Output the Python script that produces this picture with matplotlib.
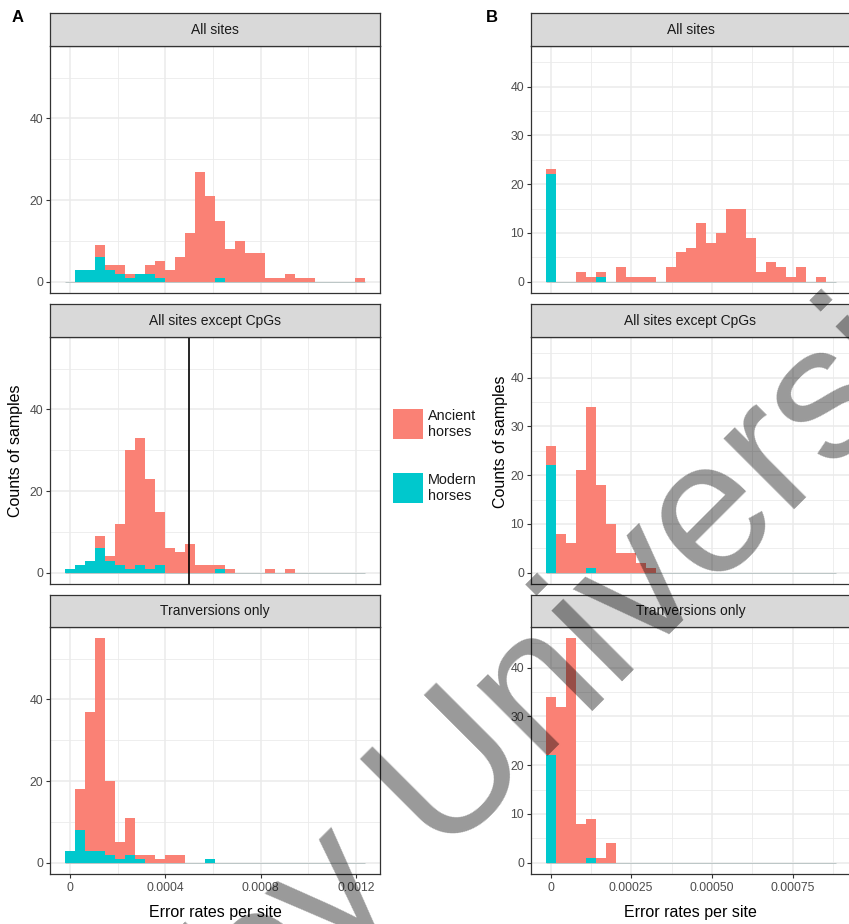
import numpy as np
import matplotlib
matplotlib.use("Agg")
import matplotlib.pyplot as plt
from matplotlib.patches import Rectangle

plt.rcParams['font.family'] = ['Liberation Sans', 'DejaVu Sans']

# ---------------- data (histogram counts per bin) -------------
facets = ["All sites", "All sites except CpGs", "Tranversions only"]
group_labels = ["Ancient\nhorses", "Modern\nhorses"]

# Panel A: 30 bins, bin centres at k * binwidth_a
binwidth_a = 4.196e-5
a_all_modern = [0, 3, 3, 6, 3, 2, 1, 2, 2, 1, 0, 0, 0, 0, 0, 1, 0, 0, 0, 0, 0, 0, 0, 0, 0, 0, 0, 0, 0, 0]
a_all_ancient = [0, 0, 0, 3, 1, 2, 1, 0, 2, 4, 3, 6, 12, 27, 21, 14, 8, 10, 7, 7, 1, 1, 2, 1, 1, 0, 0, 0, 0, 1]
a_cpg_modern = [1, 2, 3, 6, 3, 2, 1, 2, 1, 2, 0, 0, 0, 0, 0, 1, 0, 0, 0, 0, 0, 0, 0, 0, 0, 0, 0, 0, 0, 0]
a_cpg_ancient = [0, 0, 0, 3, 1, 10, 29, 31, 22, 13, 6, 5, 7, 2, 2, 1, 1, 0, 0, 0, 1, 0, 1, 0, 0, 0, 0, 0, 0, 0]
a_tv_modern = [3, 8, 3, 3, 2, 1, 2, 1, 0, 0, 0, 0, 0, 0, 1, 0, 0, 0, 0, 0, 0, 0, 0, 0, 0, 0, 0, 0, 0, 0]
a_tv_ancient = [0, 10, 34, 52, 18, 4, 9, 1, 2, 1, 2, 2, 0, 0, 0, 0, 0, 0, 0, 0, 0, 0, 0, 0, 0, 0, 0, 0, 0, 0]
a_cutoff = 0.0005

# Panel B: 29 bins, bin centres at k * binwidth_b
binwidth_b = 3.099e-5
b_all_modern = [22, 0, 0, 0, 0, 1, 0, 0, 0, 0, 0, 0, 0, 0, 0, 0, 0, 0, 0, 0, 0, 0, 0, 0, 0, 0, 0, 0, 0]
b_all_ancient = [1, 0, 0, 2, 1, 1, 0, 3, 1, 1, 1, 0, 3, 6, 7, 12, 8, 10, 15, 15, 9, 2, 4, 3, 1, 3, 0, 1, 0]
b_cpg_modern = [22, 0, 0, 0, 1, 0, 0, 0, 0, 0, 0, 0, 0, 0, 0, 0, 0, 0, 0, 0, 0, 0, 0, 0, 0, 0, 0, 0, 0]
b_cpg_ancient = [4, 8, 6, 21, 33, 18, 10, 4, 4, 2, 1, 0, 0, 0, 0, 0, 0, 0, 0, 0, 0, 0, 0, 0, 0, 0, 0, 0, 0]
b_tv_modern = [22, 0, 0, 0, 1, 0, 0, 0, 0, 0, 0, 0, 0, 0, 0, 0, 0, 0, 0, 0, 0, 0, 0, 0, 0, 0, 0, 0, 0]
b_tv_ancient = [12, 32, 46, 8, 8, 1, 4, 0, 0, 0, 0, 0, 0, 0, 0, 0, 0, 0, 0, 0, 0, 0, 0, 0, 0, 0, 0, 0, 0]

a_xticks = [0, 0.0004, 0.0008, 0.0012]
a_xticklabels = ["0", "0.0004", "0.0008", "0.0012"]
a_xminor = [0.0002, 0.0006, 0.0010]
a_yticks = [0, 20, 40]
a_yminor = [10, 30, 50]

b_xticks = [0, 0.00025, 0.0005, 0.00075]
b_xticklabels = ["0", "0.00025", "0.00050", "0.00075"]
b_xminor = [0.000125, 0.000375, 0.000625, 0.000875]
b_yticks = [0, 10, 20, 30, 40]
b_yminor = [5, 15, 25, 35, 45]

xlabel = "Error rates per site"
ylabel = "Counts of samples"

# ---------------- style ----------------
COL_ANC = '#FA8175'
COL_MOD = '#00C8CD'
GRID = '#EBEBEB'
BORDER = '#333333'
TICKTXT = '#4D4D4D'

W, H = 849, 924
fig = plt.figure(figsize=(W / 100, H / 100), dpi=100)


def ax_at(x0, y0, x1, y1):
    return fig.add_axes([x0 / W, 1 - y1 / H, (x1 - x0) / W, (y1 - y0) / H])


rows = [(13, 46, 293), (304, 337, 584), (595, 627, 874)]


def draw_column(x0, x1, series, w, xticks, xticklabels, xminor, yticks, yminor, cutoff=None):
    n = len(series[0][0])
    centers = np.arange(n) * w
    lo, hi = -w / 2, (n - 0.5) * w
    span = hi - lo
    xlim = (lo - 0.05 * span, hi + 0.05 * span)
    maxc = max(max(np.array(m) + np.array(a)) for m, a in series)
    ylim = (-0.05 * maxc, 1.05 * maxc)
    axes = []
    for r, ((ys, yp, yb), (modern, ancient), title) in enumerate(zip(rows, series, facets)):
        ax = ax_at(x0, yp, x1, yb)
        axes.append(ax)
        ax.set_xlim(*xlim)
        ax.set_ylim(*ylim)
        ax.set_xticks(xticks)
        ax.set_xticks(xminor, minor=True)
        ax.set_yticks(yticks)
        ax.set_yticks(yminor, minor=True)
        ax.grid(which='major', color=GRID, lw=1.1)
        ax.grid(which='minor', color=GRID, lw=0.6)
        ax.set_axisbelow(True)
        ax.tick_params(which='minor', length=0)
        ax.tick_params(axis='y', which='major', length=3, width=0.8, color=BORDER,
                       labelsize=8.8, labelcolor=TICKTXT, pad=2)
        if r == 2:
            ax.set_xticklabels(xticklabels)
            ax.tick_params(axis='x', which='major', length=3, width=0.8, color=BORDER,
                           labelsize=8.8, labelcolor=TICKTXT, pad=3)
        else:
            ax.tick_params(axis='x', which='major', length=0, labelbottom=False)
        for s in ax.spines.values():
            s.set_color(BORDER)
            s.set_linewidth(0.9)
        ax.hlines(0, lo, hi, color='#BCC6C6', lw=0.7, zorder=1.5)
        modern = np.array(modern)
        ancient = np.array(ancient)
        ax.bar(centers, modern, width=w, color=COL_MOD, linewidth=0, zorder=2)
        ax.bar(centers, ancient, width=w, bottom=modern, color=COL_ANC, linewidth=0, zorder=2)
        if cutoff is not None and r == 1:
            ax.axvline(cutoff, color='black', lw=1.2, zorder=3)
        # strip
        sax = ax_at(x0, ys, x1, yp)
        sax.set_facecolor('#D9D9D9')
        sax.set_xticks([])
        sax.set_yticks([])
        for s in sax.spines.values():
            s.set_color(BORDER)
            s.set_linewidth(0.9)
        sax.text(0.5, 0.5, title, transform=sax.transAxes, ha='center', va='center',
                 fontsize=10, color='#1A1A1A')
    return axes


draw_column(50, 380,
            [(a_all_modern, a_all_ancient), (a_cpg_modern, a_cpg_ancient), (a_tv_modern, a_tv_ancient)],
            binwidth_a, a_xticks, a_xticklabels, a_xminor, a_yticks, a_yminor, cutoff=a_cutoff)
draw_column(531, 850,
            [(b_all_modern, b_all_ancient), (b_cpg_modern, b_cpg_ancient), (b_tv_modern, b_tv_ancient)],
            binwidth_b, b_xticks, b_xticklabels, b_xminor, b_yticks, b_yminor)

# axis titles
fig.text(215 / W, 1 - 913 / H, xlabel, ha='center', va='center', fontsize=11.5, color='black')
fig.text(690 / W, 1 - 913 / H, xlabel, ha='center', va='center', fontsize=11.5, color='black')
fig.text(16 / W, 1 - 451 / H, ylabel, ha='center', va='center', rotation=90, fontsize=11.5, color='black')
fig.text(501 / W, 1 - 442 / H, ylabel, ha='center', va='center', rotation=90, fontsize=11.5, color='black')

# panel letters
fig.text(18 / W, 1 - 18 / H, "A", ha='center', va='center', fontsize=12, fontweight='bold')
fig.text(492 / W, 1 - 18 / H, "B", ha='center', va='center', fontsize=12, fontweight='bold')

# legend
for (yc, col, lab) in [(424, COL_ANC, group_labels[0]), (488, COL_MOD, group_labels[1])]:
    fig.patches.append(Rectangle((393 / W, 1 - (yc + 15) / H), 30 / W, 30 / H,
                                 transform=fig.transFigure, facecolor=col, edgecolor='none'))
    fig.text(428 / W, 1 - yc / H, lab, ha='left', va='center', fontsize=10.4,
             color='#1A1A1A', linespacing=1.15)

# watermark
fig.text(438 / W, 1 - 851 / H, "University", rotation=45, rotation_mode='anchor',
         ha='left', va='baseline', fontsize=137, color='black', alpha=0.4, zorder=100)
fig.text(400 / W, 1 - 888 / H, "by", rotation=45, rotation_mode='anchor',
         ha='right', va='baseline', fontsize=137, color='black', alpha=0.4, zorder=100)

fig.savefig("out.png", dpi=100)
